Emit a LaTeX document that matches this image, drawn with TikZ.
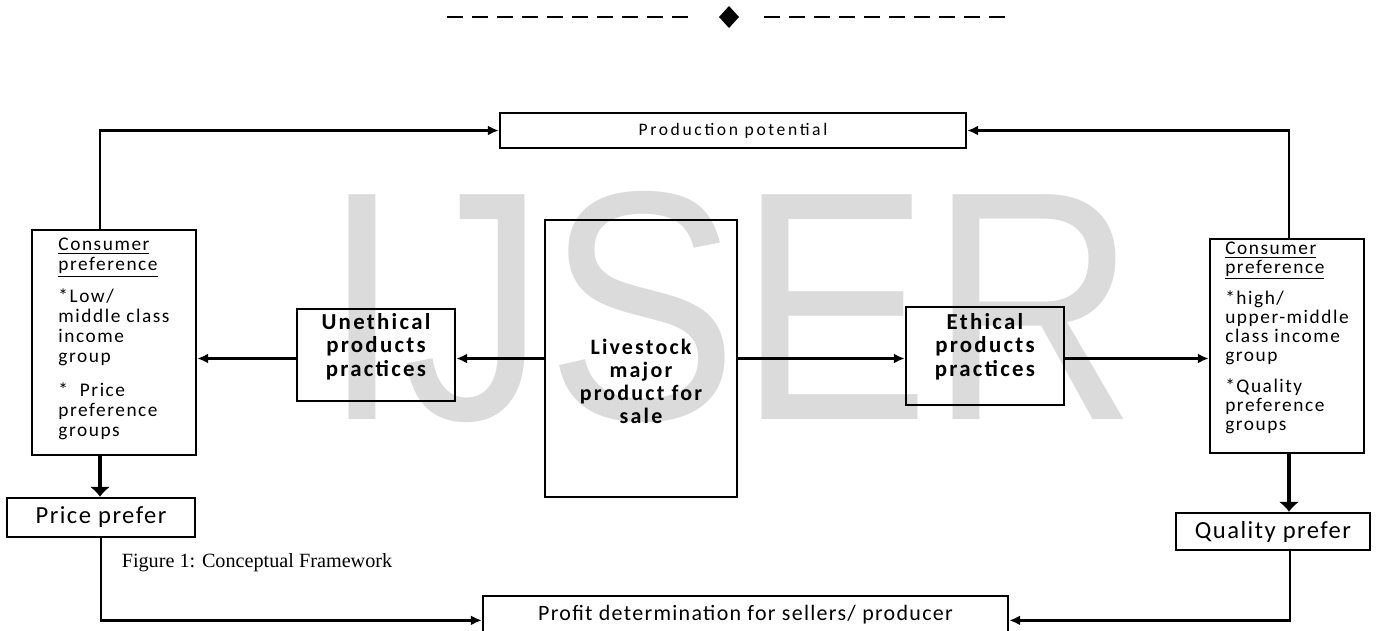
\documentclass[tikz,border=0pt]{standalone}
\usepackage{fontspec}
\setmainfont{Carlito}
\newfontfamily\spacedfont[LetterSpace=6]{Carlito}
\newfontfamily\loosefont[LetterSpace=8]{Carlito}
\newfontfamily\widefont[LetterSpace=10]{Carlito}
\newfontfamily\thinfont[LetterSpace=15]{Carlito}
\newfontfamily\capfont{Liberation Serif}
\newfontfamily\markfont[FakeStretch=0.88]{Liberation Sans}
\usepackage{tikz}
\usetikzlibrary{arrows.meta}
\usetikzlibrary{shapes.geometric}
\usetikzlibrary{positioning}

\begin{document}
\begin{tikzpicture}[x=0.02cm,y=-0.02cm]
    \tikzstyle{every path}=[line width=1.4pt]
    \tikzstyle{wnode}=[draw=black,line width=1.4pt,inner sep=0pt,align=center]
    \tikzstyle{cnode}=[wnode,align=left]
    \tikzstyle{bnode}=[wnode,font=\widefont\bfseries\fontsize{13}{13.4}\selectfont]
    \tikzstyle{pnode}=[wnode,font=\spacedfont\fontsize{14}{15}\selectfont]
    \tikzstyle{arr}=[-{Latex[length=0.22cm,width=0.2cm]}]
    \tikzstyle{fatarr}=[line width=2.8pt,-{Latex[length=0.2cm,width=0.42cm]}]
    \tikzstyle{dashline}=[line width=0.05cm,dash pattern=on 0.32cm off 0.18cm]

    \useasboundingbox (0,0) rectangle (1377,630);

    \node[text=black!14,font=\markfont\fontsize{186}{186}\selectfont] (mark) at (730,307) {IJSER};

    \node[diamond,fill=black,inner sep=0pt,minimum width=0.42cm,minimum height=0.46cm] (orn) at (729,17) {};
    \draw[dashline] ([xshift=-5.64cm]orn.center) -- ([xshift=-0.72cm]orn.center);
    \draw[dashline] ([xshift=0.7cm]orn.center) -- ([xshift=5.62cm]orn.center);

    \node[wnode,minimum width=9.32cm,minimum height=0.7cm,font=\thinfont\fontsize{10}{11}\selectfont] (prod) at (733,130.5) {Production potential};

    \node[cnode,minimum width=3.28cm,minimum height=4.5cm,text depth=0.22cm,font=\loosefont\fontsize{11}{11.3}\selectfont] (lcons) at (114,342.5)
      {\underline{Consumer}\\\underline{preference}\\[6pt]*Low/\\middle class\\income\\group\\[8pt]*~~Price\\preference\\groups};
    \node[cnode,minimum width=3.08cm,minimum height=4.28cm,text depth=0.4cm,font=\loosefont\fontsize{11}{10.8}\selectfont] (rcons) at (1287,346)
      {\underline{Consumer}\\\underline{preference}\\[5pt]*high/\\upper-middle\\class income\\group\\[7pt]*Quality\\preference\\groups};

    \node[bnode,minimum width=3.16cm,minimum height=1.84cm,text depth=0.41cm] (uneth) at (376,355) {Unethical\\products\\practices};
    \node[bnode,minimum width=3.84cm,minimum height=5.54cm,text height=2.6cm,font=\widefont\bfseries\fontsize{12.5}{13}\selectfont] (live) at (641,358.5) {Livestock\\major\\product for\\sale};
    \node[bnode,minimum width=3.16cm,minimum height=1.96cm,text depth=0.45cm] (eth) at (985,356) {Ethical\\products\\practices};

    \node[pnode,minimum width=3.76cm,minimum height=0.78cm] (price) at (101,517.5) {Price prefer};
    \node[pnode,minimum width=3.88cm,minimum height=0.74cm] (qual) at (1273,531.5) {Quality prefer};

    \node[wnode,anchor=north,minimum width=10.5cm,inner ysep=0.18cm,text depth=0.3cm,font=\spacedfont\fontsize{12.5}{13}\selectfont] (profit) at (745.5,595) {Profit determination for sellers/ producer};

    \node[font=\capfont\fontsize{11.5}{12}\selectfont] (caption) at (257,563) {Figure 1: Conceptual Framework};

    \draw[arr] ([xshift=-0.28cm]lcons.north) |- (prod.west);
    \draw[arr] ([xshift=0.04cm]rcons.north) |- (prod.east);
    \draw[arr] (live.west) -- (live.west -| uneth.east);
    \draw[arr] (uneth.west |- live.west) -- (live.west -| lcons.east);
    \draw[arr] (live.east) -- (live.east -| eth.west);
    \draw[arr] (eth.east |- live.east) -- (live.east -| rcons.west);
    \draw[fatarr] ([xshift=-0.28cm]lcons.south) -- ([xshift=-0.28cm]lcons.south |- price.north);
    \draw[fatarr] ([xshift=0.04cm]rcons.south) -- ([xshift=0.04cm]rcons.south |- qual.north);
    \draw[arr] (price.south) |- (profit.west);
    \draw[arr] ([xshift=0.34cm]qual.south) |- (profit.east);
\end{tikzpicture}
\end{document}
